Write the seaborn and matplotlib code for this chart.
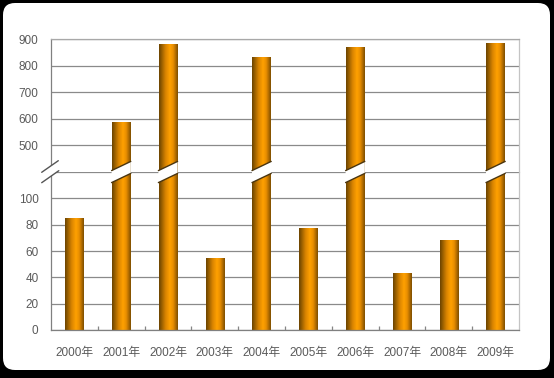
import numpy as np
import matplotlib
matplotlib.use('Agg')
import matplotlib.pyplot as plt
import seaborn as sns
from matplotlib.patches import FancyBboxPatch, Polygon
from matplotlib.lines import Line2D
from matplotlib.colors import LinearSegmentedColormap
from matplotlib.transforms import IdentityTransform

# ---- data ----
years = ['2000年', '2001年', '2002年', '2003年', '2004年',
         '2005年', '2006年', '2007年', '2008年', '2009年']
values = [85, 587, 879, 54, 832, 77, 870, 43, 68, 885]
low_ticks = [0, 20, 40, 60, 80, 100]
high_ticks = [500, 600, 700, 800, 900]
low_max = 120
high_min = 400

sns.set_theme(style='white')
plt.rcParams['font.family'] = ['Liberation Sans', 'Noto Sans CJK SC', 'DejaVu Sans']

W, H = 554, 378
fig = plt.figure(figsize=(W / 100, H / 100), dpi=100, facecolor='black')

bg = FancyBboxPatch((3, 8), 547, 367, boxstyle='round,pad=0,rounding_size=12',
                    transform=IdentityTransform(), fc='white', ec='none', zorder=-10)
fig.add_artist(bg)

left = 51 / W
width = 468 / W
ax_top = fig.add_axes([left, (H - 172) / H, width, (172 - 39.3) / H])
ax_bot = fig.add_axes([left, (H - 330) / H, width, (330 - 172) / H])

cmap = LinearSegmentedColormap.from_list('bar', [
    (0.0, '#6a4200'), (0.12, '#8f5a00'), (0.35, '#d98400'),
    (0.58, '#ffa100'), (0.75, '#e98e00'), (0.9, '#a86600'), (1.0, '#7c4e00')])
grad = np.linspace(0, 1, 256).reshape(1, -1)

grid_c = '#8a8a8a'
for ax in (ax_top, ax_bot):
    sns.barplot(x=years, y=values, ax=ax, width=0.39, color='#f39200', order=years)
    ax.set_facecolor('white')
    ax.set_xlim(-0.5, len(years) - 0.5)
    ax.yaxis.grid(True, color=grid_c, lw=0.9)
    ax.xaxis.grid(False)
    ax.set_axisbelow(True)
    ax.set_xlabel('')
    ax.set_ylabel('')
    ax.tick_params(axis='y', length=0, pad=9, labelsize=8.5, labelcolor='#5a5a5a')

ax_bot.set_ylim(0, low_max)
ax_top.set_ylim(high_min, 900)

for ax in (ax_top, ax_bot):
    ylo, yhi = ax.get_ylim()
    for p in ax.patches:
        x0, y0 = p.get_x(), p.get_y()
        w, h = p.get_width(), p.get_height()
        p.set_facecolor('none')
        p.set_edgecolor('none')
        b = max(y0, ylo)
        t = min(y0 + h, yhi)
        if t <= b:
            continue
        ax.imshow(grad, cmap=cmap, extent=[x0, x0 + w, b, t],
                  aspect='auto', zorder=2, interpolation='bilinear')
    ax.set_xlim(-0.5, len(years) - 0.5)
    ax.set_ylim(ylo, yhi)

ax_bot.set_yticks(low_ticks + [low_max])
ax_bot.set_yticklabels([str(t) for t in low_ticks] + [''])
ax_top.set_yticks(high_ticks)
ax_top.set_yticklabels([str(t) for t in high_ticks])

ax_bot.set_xticks(range(len(years)))
ax_bot.set_xticklabels(years, fontsize=8.5, color='#5a5a5a')
ax_bot.set_xticks(np.arange(0.5, len(years) - 1, 1), minor=True)
ax_bot.tick_params(axis='x', which='major', length=0, pad=12)
ax_bot.tick_params(axis='x', which='minor', direction='in', length=3,
                   width=0.9, color='#868686', bottom=True)
ax_top.set_xticks([])

for s in ax_bot.spines.values():
    s.set_visible(True)
for s in ax_top.spines.values():
    s.set_visible(True)
ax_bot.spines['top'].set_visible(False)
ax_top.spines['bottom'].set_visible(False)
ax_bot.spines['left'].set_color('#808080')
ax_bot.spines['bottom'].set_color('#808080')
ax_bot.spines['right'].set_color('#c4c4c4')
ax_top.spines['left'].set_color('#808080')
ax_top.spines['top'].set_color('#a8a8a8')
ax_top.spines['right'].set_color('#c4c4c4')
for ax in (ax_top, ax_bot):
    for s in ax.spines.values():
        s.set_linewidth(0.9)

# ---- break marks on tall bars ----
yb = ax_bot.transAxes.transform((0, 1))[1]
for i, v in enumerate(values):
    if v > low_max:
        p = ax_bot.patches[i]
        (xl, _), (xr, _) = ax_bot.transData.transform(
            [(p.get_x(), 0), (p.get_x() + p.get_width(), 0)])
        xl -= 0.5
        xr += 0.5
        d, t = 4.6, 6.0
        poly = Polygon([(xl, yb - d - t), (xr, yb + d - t), (xr, yb + d + t), (xl, yb - d + t)],
                       closed=True, fc='white', ec='none', transform=IdentityTransform(), zorder=5)
        fig.add_artist(poly)
        for off in (t, -t):
            fig.add_artist(Line2D([xl, xr], [yb - d + off, yb + d + off], color='#4a3510',
                                  lw=1.0, transform=IdentityTransform(), zorder=6))

# ---- break mark on axis ----
xs = ax_bot.transAxes.transform((0, 1))[0]
l1 = [(xs - 9.3, yb - 0.3), (xs + 7.3, yb + 11.3)]
l2 = [(xs - 9.3, yb - 10.7), (xs + 7.8, yb + 1.3)]
poly = Polygon([l1[0], l1[1], l2[1], l2[0]], closed=True, fc='white', ec='none',
               transform=IdentityTransform(), zorder=5)
fig.add_artist(poly)
for ln in (l1, l2):
    fig.add_artist(Line2D([ln[0][0], ln[1][0]], [ln[0][1], ln[1][1]], color='#555555',
                          lw=1.0, transform=IdentityTransform(), zorder=6))

fig.savefig('out.png', dpi=100, facecolor='black')
